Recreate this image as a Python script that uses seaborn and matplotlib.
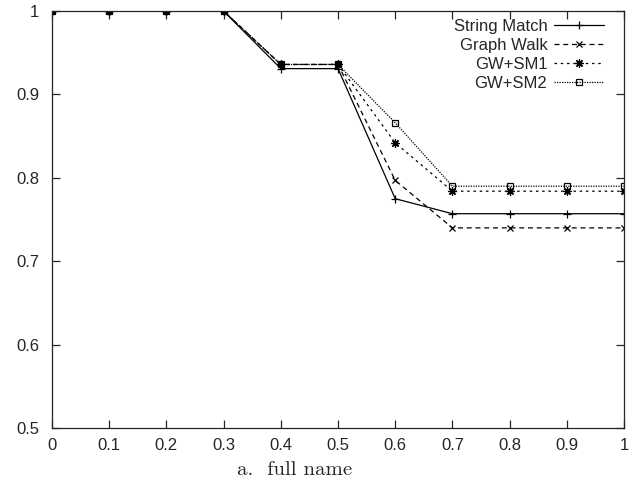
import numpy as np
import pandas as pd
import matplotlib
matplotlib.use('Agg')
import matplotlib.pyplot as plt
import seaborn as sns

# ── data ──────────────────────────────────────────────────────
thresholds   = [0.0, 0.1, 0.2, 0.3, 0.4, 0.5, 0.6, 0.7, 0.8, 0.9, 1.0]
string_match = [1.0, 1.0, 1.0, 1.0, 0.931, 0.931, 0.775, 0.757, 0.757, 0.757, 0.757]
graph_walk   = [1.0, 1.0, 1.0, 1.0, 0.936, 0.936, 0.797, 0.740, 0.740, 0.740, 0.740]
gw_sm1       = [1.0, 1.0, 1.0, 1.0, 0.936, 0.936, 0.842, 0.784, 0.784, 0.784, 0.784]
gw_sm2       = [1.0, 1.0, 1.0, 1.0, 0.936, 0.936, 0.866, 0.790, 0.790, 0.790, 0.790]
series_names = ['String Match', 'Graph Walk', 'GW+SM1', 'GW+SM2']
x_ticklabels = ['0', '0.1', '0.2', '0.3', '0.4', '0.5', '0.6', '0.7', '0.8', '0.9', '1']
y_ticks      = [0.5, 0.6, 0.7, 0.8, 0.9, 1.0]
y_ticklabels = ['0.5', '0.6', '0.7', '0.8', '0.9', '1']

df = pd.DataFrame({
    'x': thresholds * 4,
    'y': string_match + graph_walk + gw_sm1 + gw_sm2,
    'method': np.repeat(series_names, len(thresholds)),
})

sns.set_style('ticks')
plt.rcParams['font.family'] = ['Liberation Sans', 'DejaVu Sans']

# gnuplot-ish styles
styles = {
    'String Match': dict(marker='+', ls='-', ms=6, mfc='black'),
    'Graph Walk':   dict(marker='x', ls=(0, (4, 3)), ms=5, mfc='black'),
    'GW+SM1':       dict(marker=(8, 2, 0), ls=(0, (2, 3)), ms=6, mfc='black'),
    'GW+SM2':       dict(marker='s', ls=(0, (1, 1)), ms=5, mfc='none'),
}

fig = plt.figure(figsize=(6.38, 4.82), dpi=100)
ax = fig.add_axes([0.0815, 0.112, 0.8966, 0.865])

for name in series_names:
    st = styles[name]
    sns.lineplot(data=df[df['method'] == name], x='x', y='y', ax=ax,
                 label=name, color='black', lw=0.9,
                 linestyle=st['ls'], marker=st['marker'], markersize=st['ms'],
                 markerfacecolor=st['mfc'], markeredgecolor='black',
                 markeredgewidth=0.9)

ax.set_xlim(0, 1)
ax.set_ylim(0.5, 1)
ax.set_xticks(thresholds)
ax.set_xticklabels(x_ticklabels)
ax.set_yticks(y_ticks)
ax.set_yticklabels(y_ticklabels)
ax.tick_params(direction='in', length=6, width=0.9, top=True, right=True,
               labelsize=12)
ax.tick_params(axis='x', pad=7)
ax.tick_params(axis='y', pad=9)
for sp in ax.spines.values():
    sp.set_linewidth(0.9)
    sp.set_visible(True)

ax.set_ylabel('')
ax.set_xlabel('a.  full name', fontsize=15, family=['cmr10', 'DejaVu Serif'])
ax.xaxis.set_label_coords(0.425, -0.08)

ax.legend(loc='upper right', frameon=False, markerfirst=False, fontsize=12,
          handlelength=3.0, handletextpad=0.4, labelspacing=0.25,
          borderpad=0, borderaxespad=0, bbox_to_anchor=(0.965, 0.982))

plt.savefig('out.png', dpi=100)
plt.close()
